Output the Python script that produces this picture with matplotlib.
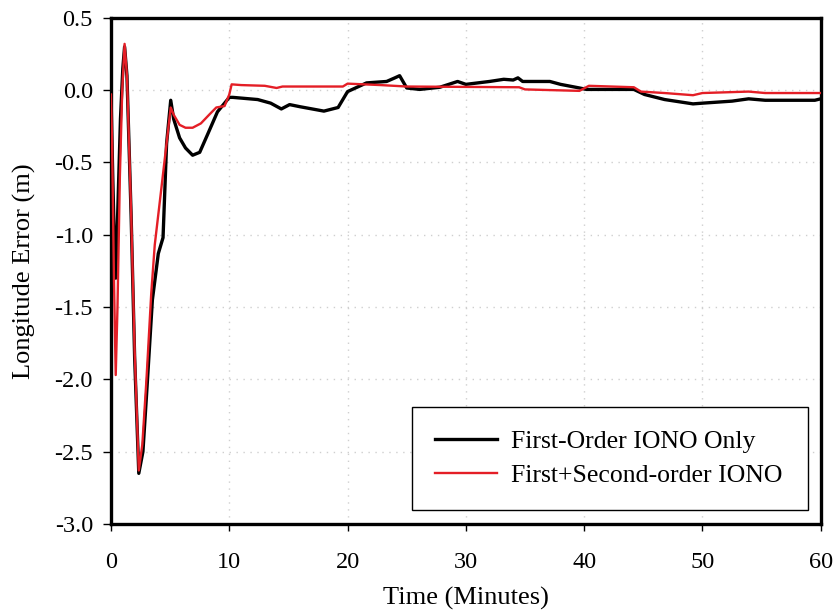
import matplotlib
matplotlib.use("Agg")
import matplotlib.pyplot as plt

plt.rcParams['font.family'] = ['Liberation Serif', 'DejaVu Serif']

# --- First-Order IONO Only (black) ---
t_first = [0, 0.15, 0.3, 0.4, 0.55, 0.8, 1.0, 1.15, 1.35, 1.7, 2.0, 2.35, 2.7, 3.05, 3.5,
           4.0, 4.4, 4.7, 5.05, 5.3, 5.8, 6.3, 6.9, 7.5, 8.2, 9.0, 10.0, 10.3, 12.4, 13.5,
           14.4, 15.1, 16, 17, 18, 19.2, 20, 21.6, 23.3, 24.0, 24.4, 25, 26.1, 27.8, 29.3,
           30, 32, 33.2, 34, 34.4, 34.8, 37.1, 38, 39.6, 40.2, 44.2, 45.1, 46.8, 49.2, 50,
           52.5, 53.9, 55.3, 59.5, 60]
err_first = [-0.03, -0.6, -1.1, -1.3, -0.9, -0.2, 0.15, 0.3, 0.1, -0.86, -1.85, -2.65, -2.5,
             -2.05, -1.45, -1.13, -1.02, -0.37, -0.07, -0.2, -0.33, -0.4, -0.45, -0.43, -0.3,
             -0.15, -0.05, -0.05, -0.065, -0.09, -0.13, -0.10, -0.115, -0.13, -0.145, -0.12,
             -0.01, 0.05, 0.06, 0.085, 0.1, 0.015, 0.005, 0.02, 0.06, 0.04, 0.06, 0.075, 0.07,
             0.085, 0.06, 0.06, 0.04, 0.015, 0.005, 0.005, -0.03, -0.065, -0.095, -0.09,
             -0.076, -0.06, -0.07, -0.07, -0.06]

# --- First+Second-order IONO (red) ---
t_second = [0, 0.1, 0.25, 0.4, 0.55, 0.75, 0.95, 1.15, 1.35, 1.7, 2.0, 2.35, 2.65, 3.0, 3.4,
            3.7, 4.3, 4.85, 5.05, 5.3, 5.8, 6.3, 6.9, 7.6, 8.3, 8.9, 9.6, 10.0, 10.2, 11, 13,
            14, 14.5, 19.6, 20, 22.8, 25, 34.5, 35, 39.6, 40.4, 44.2, 44.8, 46.8, 49.2, 50,
            53.9, 55.3, 60]
err_second = [-0.03, -0.4, -1.3, -1.97, -1.5, -0.6, 0.0, 0.32, 0.1, -0.84, -1.8, -2.63, -2.45,
              -2.0, -1.41, -1.07, -0.65, -0.26, -0.12, -0.17, -0.24, -0.26, -0.26, -0.23, -0.17,
              -0.12, -0.11, -0.03, 0.04, 0.035, 0.03, 0.015, 0.025, 0.025, 0.045, 0.035, 0.025,
              0.02, 0.005, -0.005, 0.03, 0.02, -0.01, -0.02, -0.035, -0.02, -0.01, -0.02, -0.02]

x_ticks = [0, 10, 20, 30, 40, 50, 60]
y_ticks = [0.5, 0.0, -0.5, -1.0, -1.5, -2.0, -2.5, -3.0]

fig = plt.figure(figsize=(8.37, 6.15), dpi=100)
ax = fig.add_axes([0.1326, 0.148, 0.848, 0.823])

ax.plot(t_first, err_first, color='black', lw=2.4, label='First-Order IONO Only', zorder=3)
ax.plot(t_second, err_second, color='#e41e26', lw=1.7, label='First+Second-order IONO', zorder=4)

ax.set_xlim(0, 60)
ax.set_ylim(-3.0, 0.5)
ax.set_xticks(x_ticks)
ax.set_yticks(y_ticks)
ax.set_yticklabels([f"{v:.1f}" for v in y_ticks])
ax.grid(True, color='#cfcfcf', linestyle=(0, (1, 4)), lw=1.0)
ax.tick_params(direction='out', width=1.0, labelsize=17.5)
ax.tick_params(axis='x', length=5, pad=15)
ax.tick_params(axis='y', length=6, pad=7)
for s in ax.spines.values():
    s.set_linewidth(2.4)

ax.set_xlabel('Time (Minutes)', fontsize=19, labelpad=10)
ax.set_ylabel('Longitude Error (m)', fontsize=19, labelpad=13)

leg = ax.legend(loc='lower left', bbox_to_anchor=(0.424, 0.028, 0.558, 0.203), mode='expand',
                borderaxespad=0, fontsize=18.5, fancybox=False, framealpha=1,
                edgecolor='black', handlelength=2.4, handletextpad=0.55,
                borderpad=0.9, labelspacing=0.4)
leg.get_frame().set_linewidth(1.0)

fig.savefig('out.png', dpi=100)
